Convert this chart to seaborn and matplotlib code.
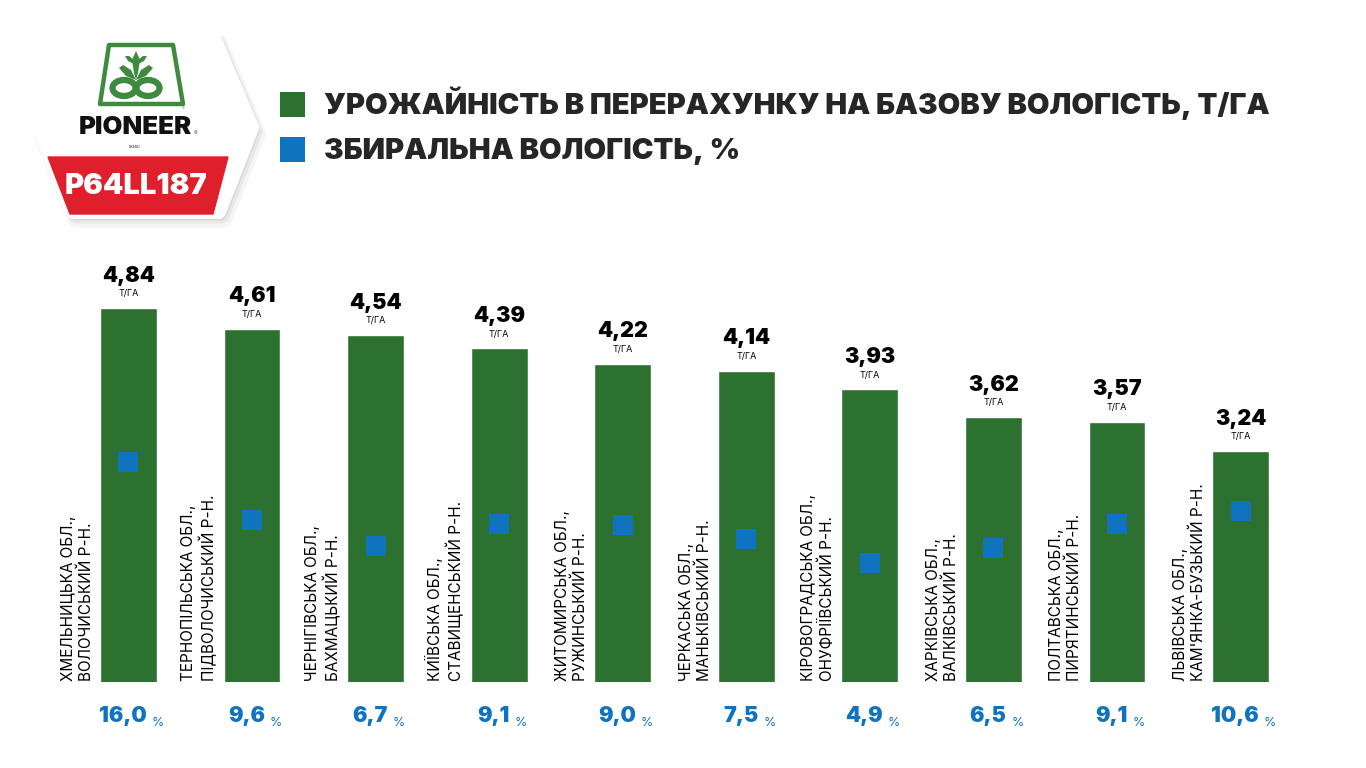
import matplotlib
matplotlib.use("Agg")
import matplotlib.pyplot as plt
import seaborn as sns
import pandas as pd
from matplotlib.patches import Polygon, Ellipse
from matplotlib.lines import Line2D

# data
regions = [
    "ХМЕЛЬНИЦЬКА ОБЛ.,\nВОЛОЧИСЬКИЙ Р-Н.",
    "ТЕРНОПІЛЬСЬКА ОБЛ.,\nПІДВОЛОЧИСЬКИЙ Р-Н.",
    "ЧЕРНІГІВСЬКА ОБЛ.,\nБАХМАЦЬКИЙ Р-Н.",
    "КИЇВСЬКА ОБЛ.,\nСТАВИЩЕНСЬКИЙ Р-Н.",
    "ЖИТОМИРСЬКА ОБЛ.,\nРУЖИНСЬКИЙ Р-Н.",
    "ЧЕРКАСЬКА ОБЛ.,\nМАНЬКІВСЬКИЙ Р-Н.",
    "КІРОВОГРАДСЬКА ОБЛ.,\nОНУФРІЇВСЬКИЙ Р-Н.",
    "ХАРКІВСЬКА ОБЛ.,\nВАЛКІВСЬКИЙ Р-Н.",
    "ПОЛТАВСЬКА ОБЛ.,\nПИРЯТИНСЬКИЙ Р-Н.",
    "ЛЬВІВСЬКА ОБЛ.,\nКАМ'ЯНКА-БУЗЬКИЙ Р-Н.",
]
yield_t = [4.84, 4.61, 4.54, 4.39, 4.22, 4.14, 3.93, 3.62, 3.57, 3.24]
moisture = [16.0, 9.6, 6.7, 9.1, 9.0, 7.5, 4.9, 6.5, 9.1, 10.6]

legend_labels = [
    "УРОЖАЙНІСТЬ В ПЕРЕРАХУНКУ НА БАЗОВУ ВОЛОГІСТЬ, Т/ГА",
    "ЗБИРАЛЬНА ВОЛОГІСТЬ, %",
]
unit_label = "Т/ГА"
hybrid = "P64LL187"

GREEN = "#2c7130"
BLUE = "#0f73bf"
RED = "#e01f2d"
FONT = "Inter"
HEAVY = 900

df = pd.DataFrame({"region": regions, "yield": yield_t, "moisture": moisture})

sns.set_theme(style="white")
plt.rcParams["font.family"] = [FONT, "DejaVu Sans"]

W, H = 1366, 768
fig = plt.figure(figsize=(W / 100, H / 100), dpi=100)
fig.patch.set_facecolor("white")

# main axes placed in pixels
left_px, right_px, top_px, bot_px = 66.7, 1302.3, 250, 681.7
ax = fig.add_axes([left_px / W, 1 - bot_px / H, (right_px - left_px) / W, (bot_px - top_px) / H])

sns.barplot(data=df, x="region", y="yield", color=GREEN, saturation=1,
            width=0.46, ax=ax, zorder=2)
ax.set_xlim(-0.5, len(regions) - 0.5)
ax.set_ylim(0.654, 5.494)

ax2 = ax.twinx()
sns.scatterplot(data=df, x="region", y="moisture", marker="s", s=190,
                color=BLUE, linewidth=0, ax=ax2, zorder=3)
ax2.set_ylim(-8.14, 39.2)

for a in (ax, ax2):
    a.set_axis_off()

# labels on each bar
for i, row in df.iterrows():
    txt = f"{row['yield']:.2f}".replace(".", ",")
    ax.annotate(txt, xy=(i, row["yield"]), xytext=(0, 19), textcoords="offset points",
                ha="center", va="baseline", fontsize=15.5, fontweight=HEAVY, color="black")
    ax.annotate(unit_label, xy=(i, row["yield"]), xytext=(0, 8.6), textcoords="offset points",
                ha="center", va="baseline", fontsize=6.5, color="black")
    # region text, rotated, left of bar
    ax.annotate(row["region"], xy=(i - 0.23, 0), xycoords=("data", "axes fraction"),
                xytext=(-4.5, 0.5), textcoords="offset points", rotation=90,
                ha="right", va="bottom", multialignment="left", fontsize=11,
                color="black", linespacing=1.2)
    # moisture under the bar
    mtxt = f"{row['moisture']:.1f}".replace(".", ",")
    num = ax.annotate(mtxt, xy=(i, 0), xycoords=("data", "axes fraction"),
                      xytext=(-4, -28.8), textcoords="offset points",
                      ha="center", va="baseline", fontsize=15.5, fontweight=HEAVY, color=BLUE)
    ax.annotate("%", xy=(1, 0), xycoords=num, xytext=(3.5, 0), textcoords="offset points",
                ha="left", va="baseline", fontsize=9, color=BLUE)

# legend
handles = [
    Line2D([], [], linestyle="none", marker="s", markersize=18, markerfacecolor=GREEN, markeredgewidth=0),
    Line2D([], [], linestyle="none", marker="s", markersize=18, markerfacecolor=BLUE, markeredgewidth=0),
]
fig.legend(handles, legend_labels, loc="upper left", bbox_to_anchor=(277 / W, 1 - 87 / H),
           frameon=False, handlelength=1.0, handletextpad=0.6, labelspacing=0.6,
           borderaxespad=0, borderpad=0,
           prop={"family": [FONT, "DejaVu Sans"], "weight": HEAVY, "size": 21})

# logo drawn in a pixel overlay
lg = fig.add_axes([0, 0, 1, 1], zorder=5)
lg.set_xlim(0, W)
lg.set_ylim(H, 0)
lg.set_axis_off()

hexa = [(76, 38), (214, 38), (252, 128), (219, 212), (73, 212), (39, 128)]
for k, (dx, dy, a) in enumerate([(4, 6, 0.06), (3, 4, 0.08), (2, 3, 0.1)]):
    lg.add_patch(Polygon([(x + dx, y + dy) for x, y in hexa], closed=True,
                         facecolor="#555555", edgecolor="#555555", alpha=a,
                         linewidth=14 - 3 * k, joinstyle="round"))
lg.add_patch(Polygon(hexa, closed=True, facecolor="white", edgecolor="white",
                     linewidth=10, joinstyle="round"))
lg.add_patch(Polygon([(48, 157), (228, 157), (213, 214), (70, 214)], closed=True,
                     facecolor=RED, edgecolor=RED, linewidth=1))
lg.text(136, 186, hybrid, ha="center", va="center", fontsize=21, fontweight=HEAVY, color="white")
lg.text(135, 127, "PIONEER", ha="center", va="center", fontsize=18.5, fontweight=HEAVY,
        color="#111111")
lg.text(135, 147, "BRAND", ha="center", va="center", fontsize=2.5, color="#333333")
lg.text(196, 134, "®", ha="center", va="center", fontsize=4, color="#333333")
lg.text(183, 108, "®", ha="center", va="center", fontsize=3, color=GREEN)

# seed emblem
EMB = "#3e8a3f"
lg.add_patch(Polygon([(109, 45), (173, 45), (183, 104), (100, 104)], closed=True,
                     facecolor="none", edgecolor=EMB, linewidth=3.2, joinstyle="round"))
lg.add_patch(Ellipse((124, 88), 23, 16, facecolor="none", edgecolor=EMB, linewidth=4.5))
lg.add_patch(Ellipse((148, 88), 23, 16, facecolor="none", edgecolor=EMB, linewidth=4.5))
lg.add_patch(Polygon([(136, 51), (140, 60), (138, 73), (136, 80), (134, 73), (132, 60)],
                     closed=True, facecolor=EMB, edgecolor="none"))
lg.add_patch(Polygon([(136, 80), (126, 76), (119, 68), (123, 65), (131, 70)],
                     closed=True, facecolor=EMB, edgecolor="none"))
lg.add_patch(Polygon([(136, 80), (146, 76), (153, 68), (149, 65), (141, 70)],
                     closed=True, facecolor=EMB, edgecolor="none"))
lg.add_patch(Polygon([(134, 64), (128, 61), (125, 56), (129, 56), (134, 60)],
                     closed=True, facecolor=EMB, edgecolor="none"))
lg.add_patch(Polygon([(138, 64), (144, 61), (147, 56), (143, 56), (138, 60)],
                     closed=True, facecolor=EMB, edgecolor="none"))

fig.savefig("out.png", dpi=100, facecolor="white")
